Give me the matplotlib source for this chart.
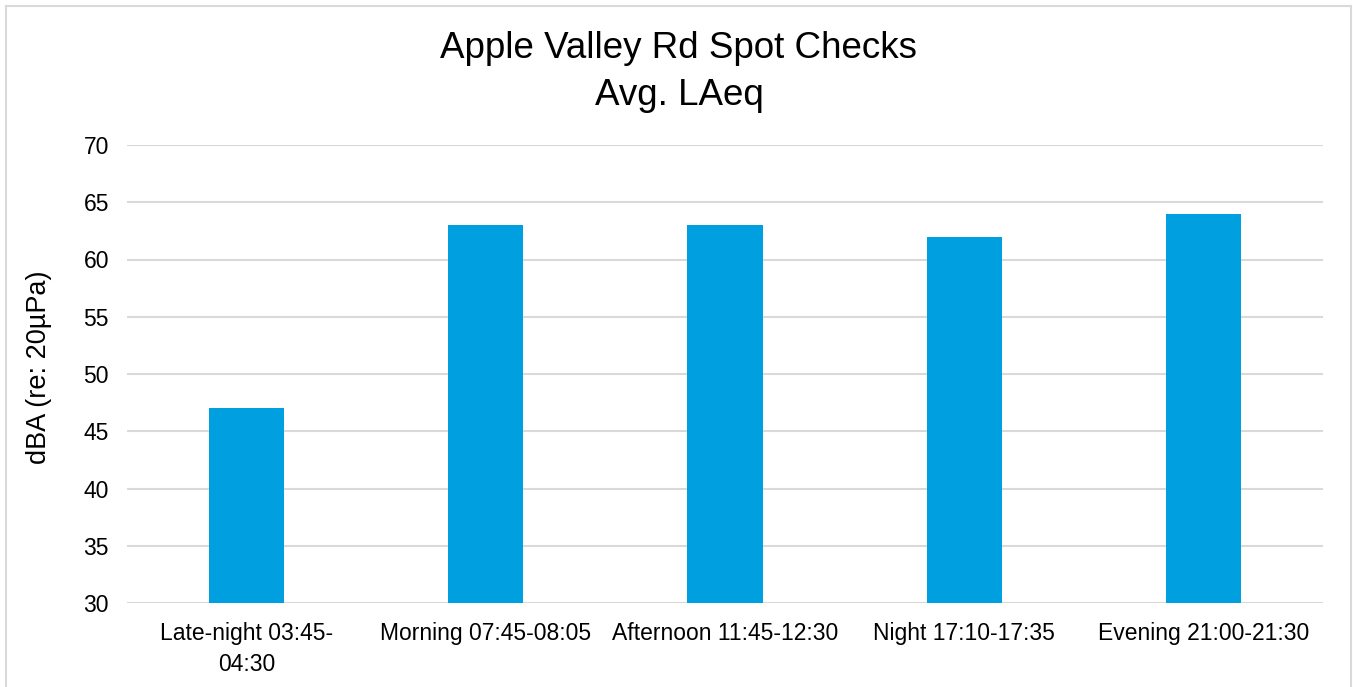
import matplotlib.pyplot as plt
from matplotlib.patches import Rectangle

categories = ['Late-night 03:45-\n04:30', 'Morning 07:45-08:05', 'Afternoon 11:45-12:30',
              'Night 17:10-17:35', 'Evening 21:00-21:30']
laeq = [47, 63, 63, 62, 64]
yticks = [30, 35, 40, 45, 50, 55, 60, 65, 70]

plt.rcParams['font.family'] = ['Liberation Sans', 'DejaVu Sans']

W, H = 1353, 687
fig = plt.figure(figsize=(W / 100, H / 100), dpi=100)
ax = fig.add_axes([127 / W, 1 - 603 / H, (1323 - 127) / W, (603 - 145) / H])

x = range(len(categories))
ax.bar(x, laeq, width=0.314, color='#009fe0', zorder=2)

ax.set_ylim(30, 70)
ax.set_xlim(-0.5, len(categories) - 0.5)
ax.set_yticks(yticks)
ax.set_xticks(list(x))
ax.set_xticklabels(categories, fontsize=16.5, linespacing=1.4)
ax.tick_params(axis='y', labelsize=16.5, length=0, pad=13)
ax.tick_params(axis='x', length=0, pad=14)
ax.grid(axis='y', color='#d9d9d9', linewidth=1.5, zorder=0)
for s in ax.spines.values():
    s.set_visible(False)

ax.set_ylabel('dBA (re: 20µPa)', fontsize=19.5)
ax.yaxis.set_label_coords((52 - 127) / 1196, 0.515)

fig.text(679 / W, 1 - 31 / H, 'Apple Valley Rd Spot Checks\nAvg. LAeq',
         ha='center', va='top', fontsize=26.5, linespacing=1.45)

fig.patches.append(Rectangle((6 / W, -0.05), (W - 8) / W, 1.05 - 6 / H,
                             transform=fig.transFigure, fill=False,
                             edgecolor='#d9d9d9', linewidth=1.5))

fig.savefig('out.png', dpi=100)
